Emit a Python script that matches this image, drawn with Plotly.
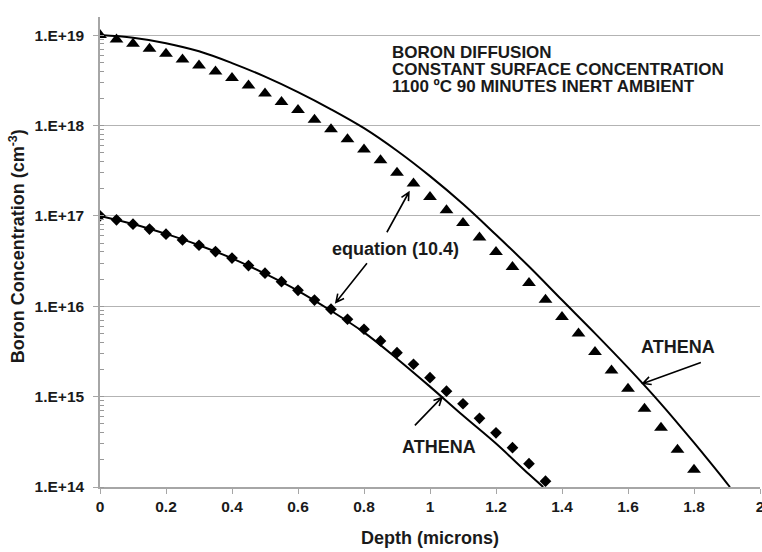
import math
import plotly.graph_objects as go

# ---- data ----
# triangles (upper set, surface concentration 1e19)
tri_depth = [0.00, 0.05, 0.10, 0.15, 0.20, 0.25, 0.30, 0.35, 0.40, 0.45,
             0.50, 0.55, 0.60, 0.65, 0.70, 0.75, 0.80, 0.85, 0.90, 0.95,
             1.00, 1.05, 1.10, 1.15, 1.20, 1.25, 1.30, 1.35, 1.40, 1.45,
             1.50, 1.55, 1.60, 1.65, 1.70, 1.75, 1.80]
tri_conc = [1.00e19, 8.95e18, 8.02e18, 7.06e18, 6.21e18, 5.38e18, 4.62e18, 3.96e18, 3.34e18, 2.77e18,
            2.26e18, 1.82e18, 1.48e18, 1.16e18, 9.10e17, 7.05e17, 5.42e17, 4.13e17, 2.99e17, 2.28e17,
            1.62e17, 1.15e17, 8.34e16, 5.75e16, 3.98e16, 2.72e16, 1.81e16, 1.18e16, 7.60e15, 4.98e15,
            3.11e15, 1.95e15, 1.22e15, 7.36e14, 4.53e14, 2.58e14, 1.55e14]

# upper solid line
up_depth = [0.0, 0.1, 0.2, 0.3, 0.4, 0.5, 0.6, 0.7, 0.8, 0.9,
            1.0, 1.1, 1.2, 1.3, 1.4, 1.5, 1.6, 1.7, 1.8, 1.9, 1.909]
up_conc = [1.00e19, 9.33e18, 8.13e18, 6.61e18, 4.90e18, 3.47e18, 2.34e18, 1.51e18, 9.33e17, 5.25e17,
           2.75e17, 1.35e17, 6.17e16, 2.75e16, 1.17e16, 5.01e15, 2.09e15, 8.32e14, 3.09e14, 1.10e14, 1.00e14]

# diamonds (lower set, surface concentration 1e17)
dia_depth = [0.00, 0.05, 0.10, 0.15, 0.20, 0.25, 0.30, 0.35, 0.40, 0.45,
             0.50, 0.55, 0.60, 0.65, 0.70, 0.75, 0.80, 0.85, 0.90, 0.95,
             1.00, 1.05, 1.10, 1.15, 1.20, 1.25, 1.30, 1.35]
dia_conc = [1.00e17, 9.04e16, 8.09e16, 7.13e16, 6.27e16, 5.42e16, 4.73e16, 4.02e16, 3.41e16, 2.82e16,
            2.32e16, 1.87e16, 1.50e16, 1.17e16, 9.27e15, 7.18e15, 5.56e15, 4.13e15, 3.06e15, 2.28e15,
            1.62e15, 1.15e15, 8.34e14, 5.75e14, 3.98e14, 2.72e14, 1.81e14, 1.16e14]

# lower solid line
low_depth = [0.0, 0.1, 0.2, 0.3, 0.4, 0.5, 0.6, 0.7, 0.8, 0.9,
             1.0, 1.1, 1.2, 1.3, 1.343]
low_conc = [1.00e17, 8.13e16, 6.31e16, 4.73e16, 3.39e16, 2.29e16, 1.48e16, 8.91e15, 5.13e15, 2.63e15,
            1.29e15, 6.17e14, 3.02e14, 1.38e14, 1.00e14]

# axis ticks
x_ticks = [0, 0.2, 0.4, 0.6, 0.8, 1, 1.2, 1.4, 1.6, 1.8, 2]
x_ticktext = ['0', '0.2', '0.4', '0.6', '0.8', '1', '1.2', '1.4', '1.6', '1.8', '2']
y_exp = [14, 15, 16, 17, 18, 19]
y_ticktext = ['1.E+14', '1.E+15', '1.E+16', '1.E+17', '1.E+18', '1.E+19']

FONT = 'Liberation Sans, Arial, sans-serif'
INK = '#1a1a1a'
GREY = '#a6a6a6'

fig = go.Figure()

fig.add_trace(go.Scatter(x=up_depth, y=up_conc, mode='lines',
                         line=dict(color='black', width=2, shape='spline')))
fig.add_trace(go.Scatter(x=low_depth, y=low_conc, mode='lines',
                         line=dict(color='black', width=2, shape='spline')))
fig.add_trace(go.Scatter(x=tri_depth, y=tri_conc, mode='markers',
                         marker=dict(symbol='triangle-up', size=12, color='black')))
fig.add_trace(go.Scatter(x=dia_depth, y=dia_conc, mode='markers',
                         marker=dict(symbol='diamond', size=9, color='black')))


def arrow(x, logy, dx, dy, head=8, half=4):
    # open "V" arrow drawn in pixels around the tip (dx, dy = tail offset, screen coords)
    n = math.hypot(dx, dy)
    ux, uy = -dx / n, -dy / n          # unit vector tail -> tip
    px, py = -uy, ux                    # perpendicular
    h1 = (-head * ux + half * px, -head * uy + half * py)
    h2 = (-head * ux - half * px, -head * uy - half * py)
    # path y is measured upward in pixel mode
    path = (f'M {dx:.1f},{-dy:.1f} L 0,0 '
            f'M {h1[0]:.1f},{-h1[1]:.1f} L 0,0 L {h2[0]:.1f},{-h2[1]:.1f}')
    fig.add_shape(type='path', path=path, xref='x', yref='y',
                  xsizemode='pixel', ysizemode='pixel',
                  xanchor=x, yanchor=10 ** logy,
                  line=dict(color='black', width=1.6))


arrow(0.936, 17.261, -22, 40)     # equation -> triangles
arrow(0.715, 16.043, 31, -39)     # equation -> lower line
arrow(1.036, 14.991, -27, 28)     # lower ATHENA
arrow(1.645, 15.146, 58, -21)     # upper ATHENA

txt = dict(family=FONT, size=18, color=INK)
# text block, one annotation per line (tight Excel line spacing)
block = ['BORON DIFFUSION', 'CONSTANT SURFACE CONCENTRATION', '1100 ºC 90 MINUTES INERT AMBIENT']
for i, line in enumerate(block):
    fig.add_annotation(x=0.880, y=18.805 - i * 0.187, xref='x', yref='y',
                       xanchor='left', yanchor='middle', showarrow=False,
                       font=dict(family=FONT, size=17, color=INK), text=f'<b>{line}</b>')
fig.add_annotation(x=0.894, y=16.638, xref='x', yref='y', showarrow=False, font=txt,
                   text='<b>equation (10.4)</b>')
fig.add_annotation(x=1.027, y=14.445, xref='x', yref='y', showarrow=False, font=txt,
                   text='<b>ATHENA</b>')
fig.add_annotation(x=1.753, y=15.553, xref='x', yref='y', showarrow=False, font=txt,
                   text='<b>ATHENA</b>')

# axis titles as annotations so they sit where the reference has them
ttl = dict(family=FONT, size=18, color=INK)
fig.add_annotation(x=0.5, y=0, xref='paper', yref='paper', yshift=-51,
                   xanchor='center', yanchor='middle', showarrow=False, font=ttl,
                   text='<b>Depth (microns)</b>')
fig.add_annotation(x=0, y=0.512, xref='paper', yref='paper', xshift=-83,
                   xanchor='center', yanchor='middle', textangle=-90, showarrow=False, font=ttl,
                   text='<b>Boron Concentration (cm<sup>-3</sup>)</b>')

# default "1e+19" style labels renamed to Excel's "1.E+19"
y_alias = {f'1e+{e}': f'<b>{t}</b>' for e, t in zip(y_exp, y_ticktext)}

fig.update_layout(
    width=762, height=552,
    margin=dict(l=100, r=2, t=17, b=65),
    paper_bgcolor='white', plot_bgcolor='white',
    showlegend=False,
    font=dict(family=FONT, size=15, color=INK),
    xaxis=dict(
        range=[0, 2], tickvals=x_ticks, ticktext=[f'<b>{t}</b>' for t in x_ticktext],
        showgrid=False, zeroline=False, automargin=False, ticklabeloverflow='allow',
        showline=True, linecolor=GREY, linewidth=1.5,
        ticks='outside', ticklen=5, tickcolor=GREY,
        tickfont=dict(family=FONT, size=15.5, color=INK),
    ),
    yaxis=dict(
        type='log', range=[14, 19.2], automargin=False,
        tickmode='linear', tick0=0, dtick=1, exponentformat='e', showexponent='all',
        labelalias=y_alias,
        ticklabelstandoff=6,
        showgrid=True, gridcolor='#b3b3b3', gridwidth=1,
        showline=True, linecolor=GREY, linewidth=1.5,
        ticks='outside', ticklen=5, tickcolor=GREY,
        tickfont=dict(family=FONT, size=15.5, color=INK),
        minor=dict(dtick='D1', ticks='inside', ticklen=4, tickwidth=1,
                   tickcolor='#999999', showgrid=False),
    ),
)

# the page has a default 8px body margin; remove it so the figure sits at the corner
fig.write_html('out.html', config={'displayModeBar': False},
               post_script="document.body.style.margin='0px';")
